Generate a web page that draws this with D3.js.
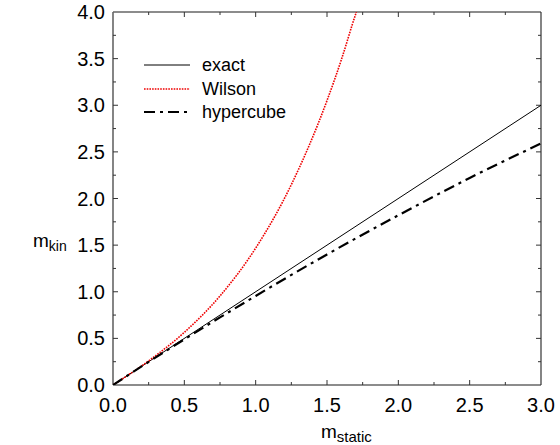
<!DOCTYPE html>
<html>
<head>
<meta charset="utf-8">
<script src="https://cdn.jsdelivr.net/npm/d3@7"></script>
<style>
  html, body { margin: 0; padding: 0; background: #fff; }
  svg text { font-family: "Liberation Sans", Arial, Helvetica, sans-serif; fill: #000; }
</style>
</head>
<body>
<svg id="chart" width="560" height="445"></svg>
<script>
// Static mass on the x axis
const mStatic = [0, 3];
const exactKin = [0, 3];

const wilsonStatic = [0, 0.25, 0.5, 0.75, 1.0, 1.25, 1.5, 1.6, 1.7, 1.706];
const wilsonKin    = [0, 0.259, 0.565, 0.955, 1.468, 2.149, 3.05, 3.485, 3.973, 4.0];

const hyperStatic = [0, 0.25, 0.5, 0.75, 1.0, 1.5, 2.0, 2.5, 3.0];
const hyperKin    = [0, 0.248, 0.49, 0.725, 0.955, 1.40, 1.82, 2.22, 2.59];

const xTicks = [0, 0.5, 1.0, 1.5, 2.0, 2.5, 3.0];
const yTicks = [0, 0.5, 1.0, 1.5, 2.0, 2.5, 3.0, 3.5, 4.0];
const seriesNames = ["exact", "Wilson", "hypercube"];

const svg = d3.select("#chart");
const pLeft = 113, pRight = 541, pTop = 12, pBottom = 385;

const x = d3.scaleLinear().domain([0, 3]).range([pLeft, pRight]);
const y = d3.scaleLinear().domain([0, 4]).range([pBottom, pTop]);

const minorX = d3.range(0, 3.001, 0.25).filter(v => Math.abs(v * 2 - Math.round(v * 2)) > 1e-6);
const minorY = d3.range(0, 4.001, 0.25).filter(v => Math.abs(v * 2 - Math.round(v * 2)) > 1e-6);

const axisColor = "#666";

// Frame
const frame = svg.append("g");
frame.append("line").attr("x1", pLeft).attr("x2", pRight).attr("y1", pBottom).attr("y2", pBottom)
  .attr("stroke", axisColor).attr("stroke-width", 1.6);
frame.append("line").attr("x1", pLeft).attr("x2", pLeft).attr("y1", pTop).attr("y2", pBottom)
  .attr("stroke", axisColor).attr("stroke-width", 1.6);
frame.append("line").attr("x1", pLeft).attr("x2", pRight).attr("y1", pTop).attr("y2", pTop)
  .attr("stroke", axisColor).attr("stroke-width", 1.6);
frame.append("line").attr("x1", pRight).attr("x2", pRight).attr("y1", pTop).attr("y2", pBottom)
  .attr("stroke", "#333").attr("stroke-width", 1.2);

// Inward ticks on all four sides
function xTickMarks(vals, len) {
  vals.forEach(v => {
    frame.append("line").attr("x1", x(v)).attr("x2", x(v)).attr("y1", pBottom).attr("y2", pBottom - len)
      .attr("stroke", "#333").attr("stroke-width", 1);
    frame.append("line").attr("x1", x(v)).attr("x2", x(v)).attr("y1", pTop).attr("y2", pTop + len)
      .attr("stroke", "#333").attr("stroke-width", 1);
  });
}
function yTickMarks(vals, len) {
  vals.forEach(v => {
    frame.append("line").attr("y1", y(v)).attr("y2", y(v)).attr("x1", pLeft).attr("x2", pLeft + len)
      .attr("stroke", "#333").attr("stroke-width", 1);
    frame.append("line").attr("y1", y(v)).attr("y2", y(v)).attr("x1", pRight).attr("x2", pRight - len)
      .attr("stroke", "#333").attr("stroke-width", 1);
  });
}
xTickMarks(xTicks.slice(1, -1), 5);
xTickMarks(minorX, 3);
yTickMarks(yTicks.slice(1, -1), 5);
yTickMarks(minorY, 3);

// Tick labels
svg.append("g").selectAll("text").data(xTicks).join("text")
  .attr("x", d => x(d)).attr("y", 412)
  .attr("text-anchor", "middle").attr("font-size", 20)
  .text(d => d.toFixed(1));
svg.append("g").selectAll("text").data(yTicks).join("text")
  .attr("x", 105).attr("y", d => y(d) + 7)
  .attr("text-anchor", "end").attr("font-size", 20)
  .text(d => d.toFixed(1));

// Axis titles
const xt = svg.append("text").attr("x", 321).attr("y", 438).attr("font-size", 19);
xt.append("tspan").text("m");
xt.append("tspan").attr("font-size", 15).attr("dy", 4).text("static");
const yt = svg.append("text").attr("x", 33).attr("y", 247).attr("font-size", 19);
yt.append("tspan").text("m");
yt.append("tspan").attr("font-size", 14).attr("dy", 4).text("kin");

// Curves
svg.append("clipPath").attr("id", "plotclip").append("rect")
  .attr("x", pLeft).attr("y", pTop).attr("width", pRight - pLeft).attr("height", pBottom - pTop);
const plot = svg.append("g").attr("clip-path", "url(#plotclip)");
const line = d3.line().x(d => x(d[0])).y(d => y(d[1])).curve(d3.curveMonotoneX);

const styles = [
  { stroke: "#000", width: 1, dash: null },
  { stroke: "#e00", width: 1.6, dash: "1.6,1.1" },
  { stroke: "#000", width: 2.2, dash: "11,5,3,5" }
];

plot.append("path").datum(d3.zip(mStatic, exactKin)).attr("d", line)
  .attr("fill", "none").attr("stroke", styles[0].stroke).attr("stroke-width", styles[0].width);
plot.append("path").datum(d3.zip(wilsonStatic, wilsonKin)).attr("d", line)
  .attr("fill", "none").attr("stroke", styles[1].stroke).attr("stroke-width", styles[1].width)
  .attr("stroke-dasharray", styles[1].dash);
plot.append("path").datum(d3.zip(hyperStatic, hyperKin)).attr("d", line)
  .attr("fill", "none").attr("stroke", styles[2].stroke).attr("stroke-width", styles[2].width)
  .attr("stroke-dasharray", styles[2].dash);

// Legend
const legend = svg.append("g");
const legendY = [65, 89, 112];
seriesNames.forEach((name, i) => {
  const s = styles[i];
  legend.append("line").attr("x1", 144).attr("x2", 190).attr("y1", legendY[i]).attr("y2", legendY[i])
    .attr("stroke", s.stroke).attr("stroke-width", s.width)
    .attr("stroke-dasharray", s.dash);
  legend.append("text").attr("x", 202).attr("y", legendY[i] + 6).attr("font-size", 18).text(name);
});
</script>
</body>
</html>
